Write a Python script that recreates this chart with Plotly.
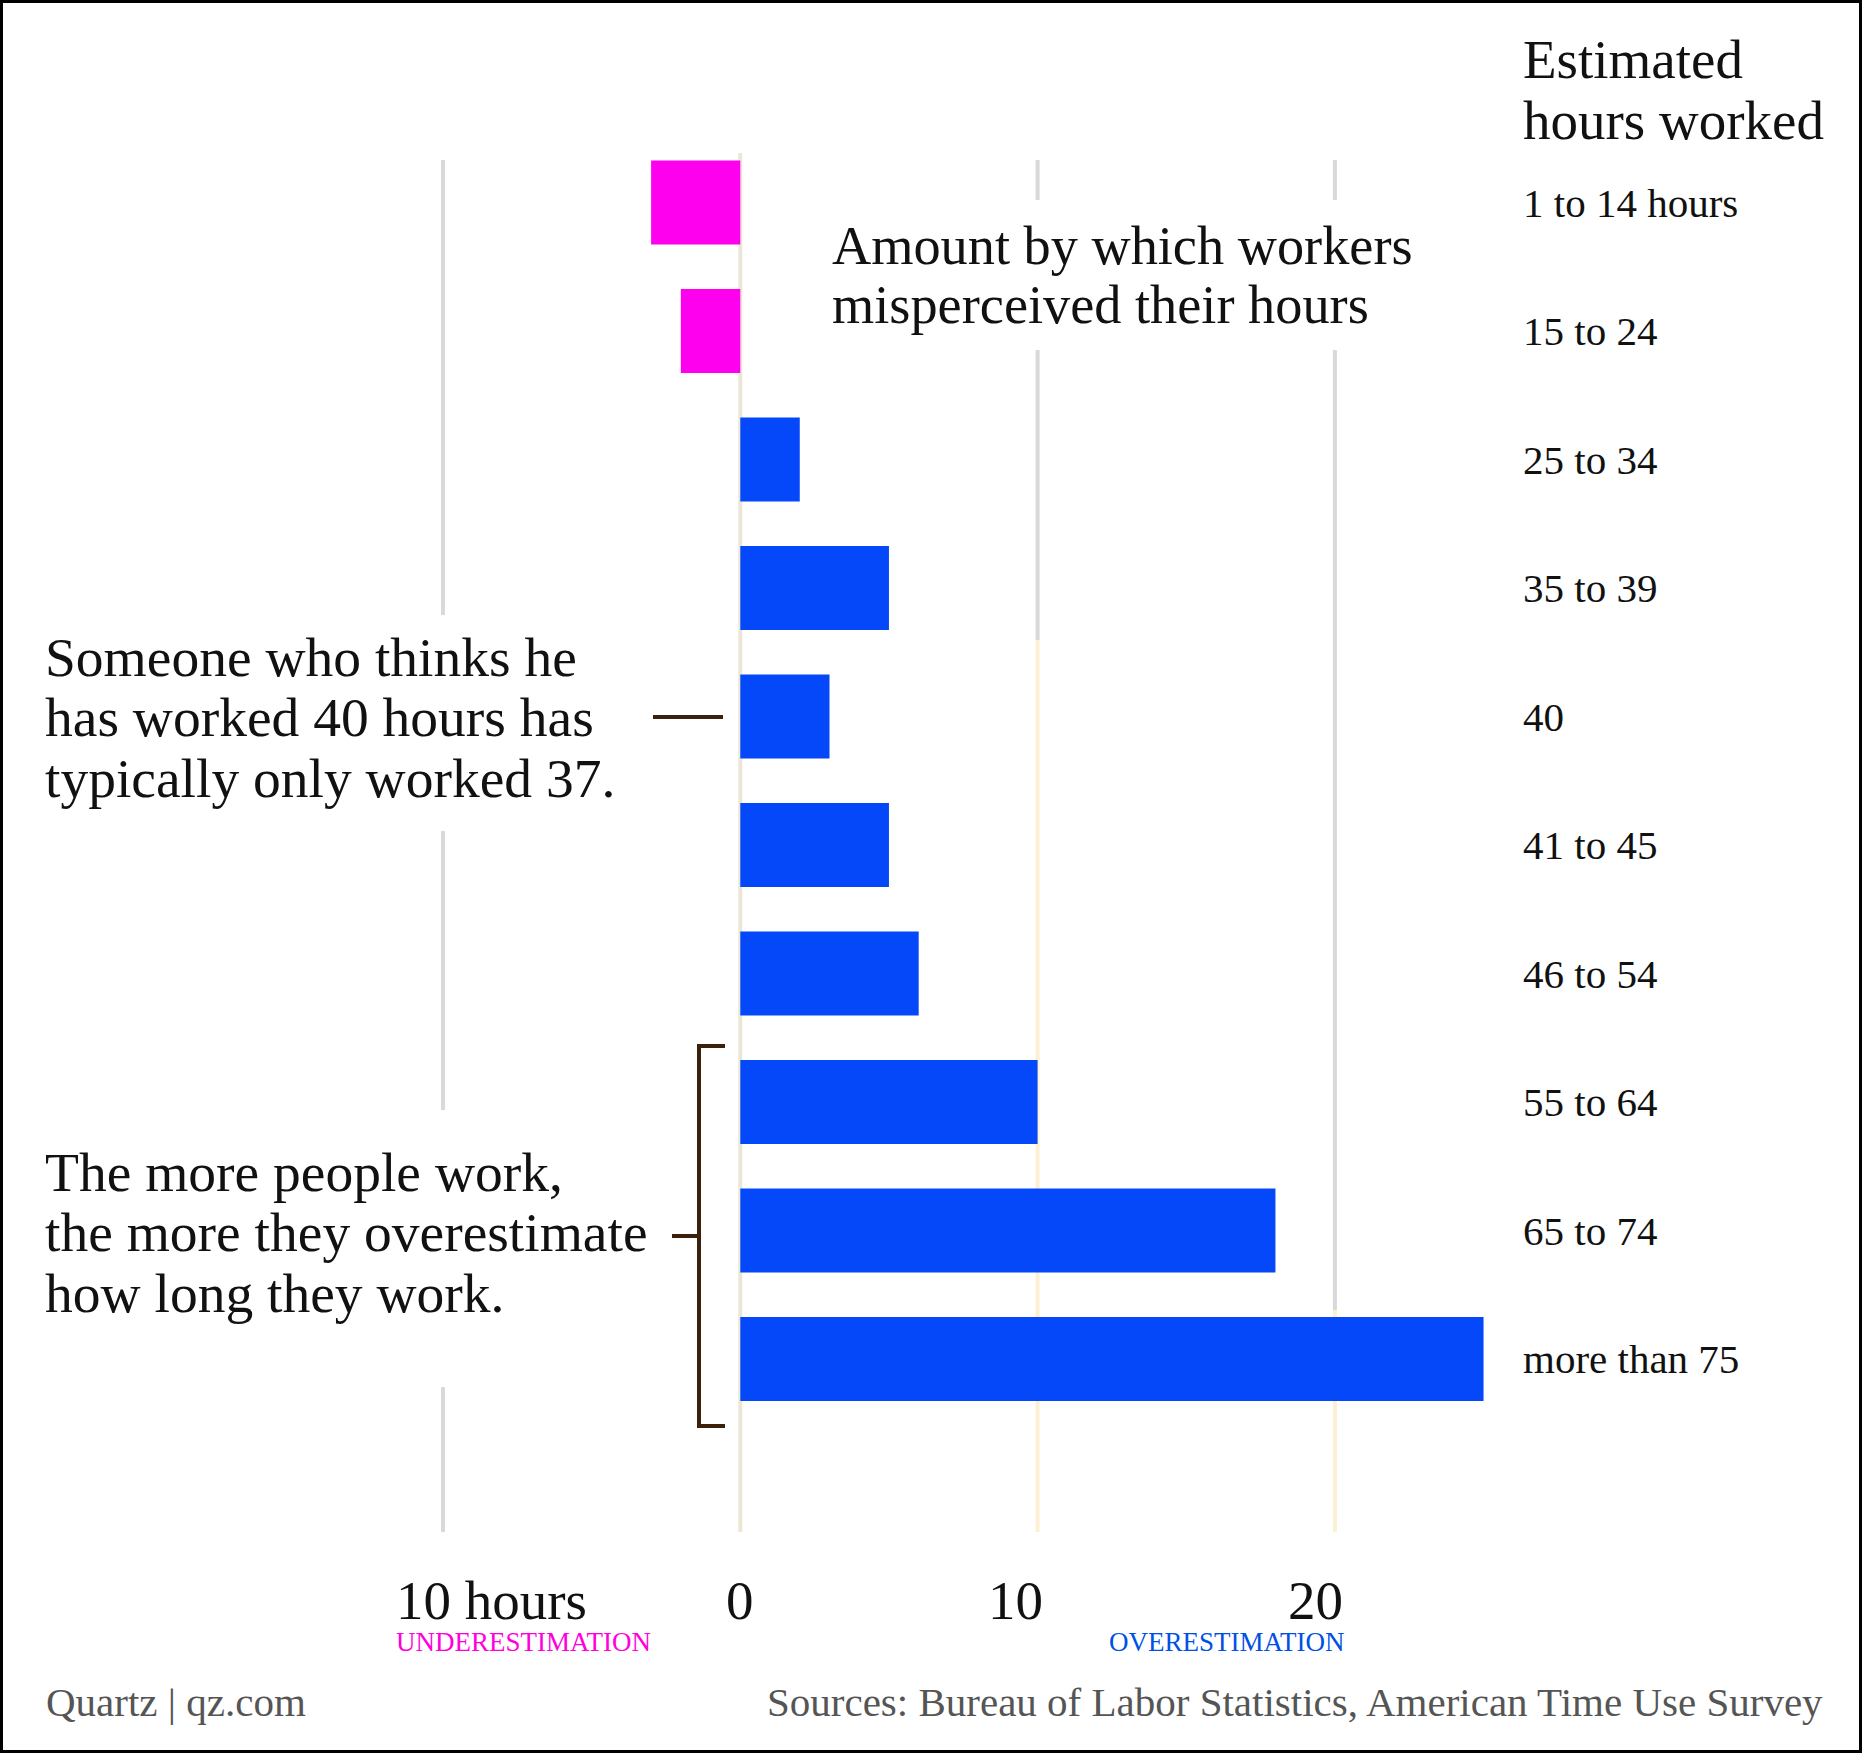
import plotly.graph_objects as go

# ---------------- data ----------------
categories = ["1 to 14 hours", "15 to 24", "25 to 34", "35 to 39", "40",
              "41 to 45", "46 to 54", "55 to 64", "65 to 74", "more than 75"]
misperception = [-3, -2, 2, 5, 3, 5, 6, 10, 18, 25]
tick_values = [-10, 0, 10, 20]
tick_labels = ["10 hours", "0", "10", "20"]

PINK = "#ff00ee"
BLUE = "#0548fa"
FONT = "Liberation Serif, PT Serif, Georgia, serif"
DARK = "#3b200c"

W, H = 1862, 1753


def px(x):
    return x / W


def py(y):
    return 1 - y / H


colors = [PINK if v < 0 else BLUE for v in misperception]

fig = go.Figure()
fig.add_trace(go.Bar(
    x=misperception, y=categories, orientation="h",
    marker=dict(color=colors, line=dict(width=0)),
    width=0.655, hoverinfo="x+y",
))

shapes = []
# grid lines (segments interrupted by annotations)
GREY = "#d9d9d9"
PALE = "#fbf1d2"
grid_segments = [
    (-10, 160, 615, GREY), (-10, 831, 1110, GREY), (-10, 1387, 1532, GREY),
    (10, 160, 200, GREY), (10, 350, 640, GREY), (10, 640, 1532, PALE),
    (20, 160, 200, GREY), (20, 350, 1310, GREY), (20, 1310, 1532, PALE),
    (0, 153, 1532, "#ece6d4"),
]
for xv, y0, y1, col in grid_segments:
    shapes.append(dict(type="line", xref="x", yref="paper", x0=xv, x1=xv,
                       y0=py(y0), y1=py(y1), line=dict(color=col, width=4),
                       layer="below"))


# annotation connector lines
def seg(x0, y0, x1, y1):
    return dict(type="line", xref="paper", yref="paper", x0=px(x0), x1=px(x1),
                y0=py(y0), y1=py(y1), line=dict(color=DARK, width=4))


shapes += [
    seg(653, 717, 723, 717),
    seg(699, 1046, 699, 1426),
    seg(697, 1046, 725, 1046),
    seg(697, 1426, 725, 1426),
    seg(672, 1236, 699, 1236),
]
# frame
shapes.append(dict(type="rect", xref="paper", yref="paper", x0=0, x1=1, y0=0, y1=1,
                   line=dict(color="#000000", width=6)))

annotations = []


def txt(text, x, y, size, color="#111111", xanchor="left", xref="paper", yref="paper", xshift=0):
    annotations.append(dict(text=text, x=x, y=y, xref=xref, yref=yref,
                            xanchor=xanchor, yanchor="middle", showarrow=False,
                            xshift=xshift,
                            font=dict(family=FONT, size=size, color=color)))


# header of right labels
txt("Estimated", px(1521), py(59), 55)
txt("hours worked", px(1521), py(120), 55)

# category labels (positioned by category index on the y axis)
for i, c in enumerate(categories):
    txt(c, px(1521), i, 41, yref="y")

# chart title
txt("Amount by which workers", px(830), py(246), 54.3)
txt("misperceived their hours", px(830), py(305), 54.3)

# left notes
for i, line in enumerate(["Someone who thinks he", "has worked 40 hours has",
                          "typically only worked 37."]):
    txt(line, px(43), py(657 + 60.5 * i), 55.5)
for i, line in enumerate(["The more people work,", "the more they overestimate",
                          "how long they work."]):
    txt(line, px(43), py(1172 + 60.5 * i), 55.5)

# axis labels
anchors = ["left", "center", "right", "right"]
shifts = [-49, 0, 7, 10]
for v, lab, a, s in zip(tick_values, tick_labels, anchors, shifts):
    txt(lab, v, py(1600), 55, xanchor=a, xref="x", xshift=s)

txt("UNDERESTIMATION", px(394), py(1642), 27, color="#ff00dd")
txt("OVERESTIMATION", px(1347), py(1642), 27, color="#0050e6", xanchor="right")

# footer
txt("Quartz | qz.com", px(44), py(1702), 41, color="#555555")
txt("Sources: Bureau of Labor Statistics, American Time Use Survey", px(1825), py(1702), 41,
    color="#555555", xanchor="right")

x0 = -740.3 / 29.73
x1 = (W - 740.3) / 29.73
y_top = -202.5 / 128.5
y_bot = (H - 202.5) / 128.5

fig.update_layout(
    width=W, height=H,
    margin=dict(l=0, r=0, t=0, b=0, pad=0),
    paper_bgcolor="white", plot_bgcolor="white",
    showlegend=False,
    bargap=0.345,
    xaxis=dict(range=[x0, x1], showgrid=False, zeroline=False, showticklabels=False,
               ticks="", showline=False, fixedrange=True),
    yaxis=dict(type="category", categoryorder="array", categoryarray=categories,
               range=[y_bot, y_top], showgrid=False, zeroline=False,
               showticklabels=False, ticks="", showline=False, fixedrange=True),
    shapes=shapes,
    annotations=annotations,
)

fig.write_html("out.html", config={"displayModeBar": False},
               post_script="document.body.style.margin='0';document.body.style.overflow='hidden';")
